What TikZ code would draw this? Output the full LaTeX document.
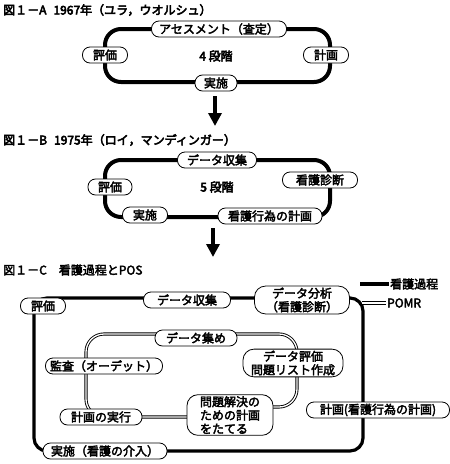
\documentclass[tikz,border=0pt]{standalone}
\usepackage{fontspec}
\setmainfont{Noto Sans CJK JP}
\newfontfamily\jpmed{Noto Sans CJK JP}[FakeBold=3]
\newfontfamily\jpbold{Noto Sans CJK JP}[FakeBold=4.2]
\usetikzlibrary{arrows.meta}

\tikzset{
  stage/.style={draw, line width=0.8pt, fill=white, rounded corners=7.5pt,
    minimum height=16pt, inner xsep=2pt, inner ysep=1.5pt,
    font=\jpmed\fontsize{12}{13.5}\selectfont},
  bigstage/.style={stage, rounded corners=11pt, align=center},
  track/.style={line width=4pt, rounded corners=16pt},
  ctrack/.style={line width=3.2pt, rounded corners=13pt},
  pomr/.style={draw=black, double=white, double distance=1.3pt, line width=0.9pt,
    rounded corners=18pt},
  fighead/.style={anchor=west, inner sep=1pt, font=\jpbold\fontsize{12}{14}\selectfont},
  count/.style={font=\jpbold\fontsize{12}{14}\selectfont},
  legend/.style={anchor=west, inner sep=1pt, font=\jpmed\fontsize{12}{14}\selectfont},
  downarrow/.style={line width=3.5pt, -{Triangle[length=13pt,width=13pt]}},
}

\begin{document}
\begin{tikzpicture}[x=1pt,y=-1pt]
  \useasboundingbox (0,0) rectangle (450,464);

  % --- Fig. 1-A : four stages
  \node[fighead] (titA) at (2,10) {図１－A\hspace{7pt}1967年（ユラ，ウオルシュ）};
  \coordinate (aNW) at (105,29);
  \coordinate (aSE) at (330,82);
  \draw[track] (aNW) rectangle (aSE);
  \node[stage, minimum width=135pt] (asA) at (219,29) {アセスメント（査定）};
  \node[stage, minimum width=45pt] (hyA) at (105,55) {評価};
  \node[stage, minimum width=45pt] (keA) at (326,55) {計画};
  \node[stage, minimum width=42pt] (jiA) at (216,83) {実施};
  \node[count] (cntA) at (216,56) {4 段階};

  \coordinate (arA1) at (215,96);
  \coordinate (arA2) at (215,126);
  \draw[downarrow] (arA1) -- (arA2);

  % --- Fig. 1-B : five stages
  \node[fighead] (titB) at (2,140) {図１－B\hspace{7pt}1975年（ロイ，マンディンガー）};
  \coordinate (bNW) at (105,160);
  \coordinate (bSE) at (330,217);
  \draw[track] (bNW) rectangle (bSE);
  \node[stage, minimum width=79pt] (daB) at (217,160) {データ収集};
  \node[stage, minimum width=75pt] (shB) at (320,180) {看護診断};
  \node[stage, minimum width=44pt] (hyB) at (110,187) {評価};
  \node[stage, minimum width=45pt] (jiB) at (145,215) {実施};
  \node[stage, minimum width=104pt] (keB) at (270,216) {看護行為の計画};
  \node[count] (cntB) at (217,187) {5 段階};

  \coordinate (arB1) at (213,228);
  \coordinate (arB2) at (213,257);
  \draw[downarrow] (arB1) -- (arB2);

  % --- Fig. 1-C : nursing process and POS
  \node[fighead, font=\jpmed\fontsize{12}{14}\selectfont] (titC) at (2,270) {図１－C　看護過程とPOS};

  % outer loop (nursing process)
  \coordinate (oNW) at (34,298);
  \coordinate (oSE) at (363,451);
  \draw[ctrack] (oNW) rectangle (oSE);

  % inner loop (POMR)
  \coordinate (iS1) at (250,407);
  \coordinate (iSE) at (297,407);
  \coordinate (iNE) at (297,334);
  \coordinate (iNW) at (86,334);
  \coordinate (iSW) at (86,417);
  \coordinate (iS2) at (215,417);
  \draw[pomr] (iS1) -- (iSE) -- (iNE) -- (iNW) -- (iSW) -- (iS2);

  \node[stage, minimum width=45pt] (hyC) at (43,306) {評価};
  \node[stage, minimum width=87pt] (daC) at (187,300) {データ収集};
  \node[bigstage, minimum width=95pt] (anC) at (302,300) {データ分析\\（看護診断）};
  \node[stage, minimum width=82pt] (dmC) at (196,338) {データ集め};
  \node[stage, minimum width=117pt] (kaC) at (104,366) {監査（オーデット）};
  \node[bigstage, minimum width=100pt] (deC) at (293,363) {データ評価\\問題リスト作成};
  \node[stage, minimum width=82pt] (jkC) at (101,417) {計画の実行};
  \node[bigstage, align=left, minimum width=86pt] (moC) at (230,415) {問題解決の\\ための計画\\をたてる};
  \node[stage, minimum width=143pt] (kkC) at (378,410) {計画(看護行為の計画)};
  \node[stage, minimum width=124pt] (jsC) at (105,451) {実施（看護の介入）};

  % legend
  \node[legend] (lgTrack) at (389,284) {看護過程};
  \coordinate (lgTrackS) at (360,284);
  \draw[line width=3.2pt] (lgTrackS) -- (lgTrack.west);
  \node[legend] (lgPomr) at (386,303) {POMR};
  \coordinate (lgPomrS) at (362,303);
  \draw[pomr] (lgPomrS) -- (lgPomr.west);
\end{tikzpicture}
\end{document}
